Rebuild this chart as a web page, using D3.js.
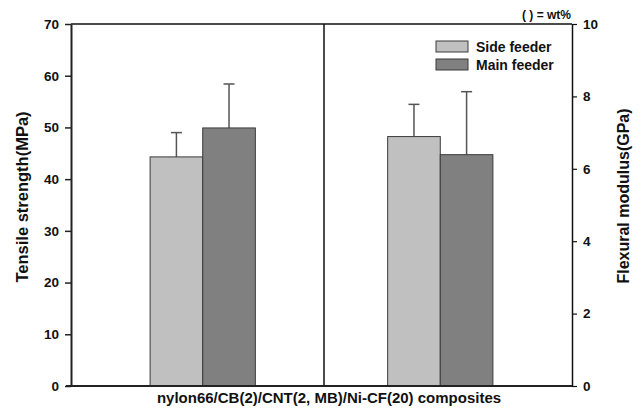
<!DOCTYPE html>
<html>
<head>
<meta charset="utf-8">
<script src="https://cdn.jsdelivr.net/npm/d3@7"></script>
<style>
  body { margin: 0; background: #fff; }
  text { font-family: "Liberation Sans", Arial, sans-serif; font-weight: bold; fill: #111; }
</style>
</head>
<body>
<svg id="chart" width="643" height="414"></svg>
<script>
// groups along the x axis (left half on left axis, right half on right axis)
const groups = ["Tensile strength", "Flexural modulus"];
const feeders = ["Side feeder", "Main feeder"];

// tensile strength (MPa)
const tensileMean = [44.3, 49.9];
const tensileErr = [4.7, 8.5];

// flexural modulus (GPa)
const flexMean = [6.89, 6.39];
const flexErr = [0.89, 1.74];

const leftTicks = [0, 10, 20, 30, 40, 50, 60, 70];
const rightTicks = [0, 2, 4, 6, 8, 10];

const svg = d3.select("#chart");
const width = 643, height = 414;
const margin = { top: 24, right: 71, bottom: 28, left: 71 };
const innerW = width - margin.left - margin.right;
const innerH = height - margin.top - margin.bottom;

const g = svg.append("g").attr("transform", `translate(${margin.left},${margin.top})`);

const x0 = d3.scaleBand()
    .domain(groups)
    .range([0, innerW])
    .paddingInner(0.557)
    .paddingOuter(0.333);

const x1 = d3.scaleBand()
    .domain(feeders)
    .range([0, x0.bandwidth()]);

const yL = d3.scaleLinear().domain([0, 70]).range([innerH, 0]);
const yR = d3.scaleLinear().domain([0, 10]).range([innerH, 0]);

const colors = { "Side feeder": "#c0c0c0", "Main feeder": "#808080" };

// rows for drawing: each bar knows which scale it uses
const rows = [];
feeders.forEach((f, i) => {
    rows.push({ group: groups[0], feeder: f, mean: tensileMean[i], err: tensileErr[i], y: yL });
    rows.push({ group: groups[1], feeder: f, mean: flexMean[i], err: flexErr[i], y: yR });
});

// error bars (behind bars)
rows.forEach(d => {
    const cx = x0(d.group) + x1(d.feeder) + x1.bandwidth() / 2;
    g.append("line")
        .attr("x1", cx).attr("x2", cx)
        .attr("y1", d.y(d.mean)).attr("y2", d.y(d.mean + d.err))
        .attr("stroke", "#555").attr("stroke-width", 1.5);
    g.append("line")
        .attr("x1", cx - 5.5).attr("x2", cx + 5.5)
        .attr("y1", d.y(d.mean + d.err)).attr("y2", d.y(d.mean + d.err))
        .attr("stroke", "#555").attr("stroke-width", 1.5);
});

// bars
g.selectAll("rect.bar")
    .data(rows)
    .join("rect")
    .attr("class", "bar")
    .attr("x", d => x0(d.group) + x1(d.feeder))
    .attr("y", d => d.y(d.mean))
    .attr("width", x1.bandwidth())
    .attr("height", d => innerH - d.y(d.mean))
    .attr("fill", d => colors[d.feeder])
    .attr("stroke", "#3a3a3a")
    .attr("stroke-width", 1);

// divider between the two halves
g.append("line")
    .attr("x1", innerW * 0.505).attr("x2", innerW * 0.505)
    .attr("y1", 0).attr("y2", innerH)
    .attr("stroke", "#111").attr("stroke-width", 1.5);

// top frame
g.append("line")
    .attr("x1", 0).attr("x2", innerW)
    .attr("y1", 0).attr("y2", 0)
    .attr("stroke", "#111").attr("stroke-width", 1.5);

// left axis
const leftAxis = g.append("g")
    .call(d3.axisLeft(yL).tickValues(leftTicks).tickSize(6).tickSizeOuter(0).tickPadding(6));
leftAxis.select(".domain").attr("stroke", "#222").attr("stroke-width", 2);
leftAxis.selectAll(".tick line").attr("stroke", "#222").attr("stroke-width", 1.5);
leftAxis.selectAll(".tick text").style("font-size", "13.5px").attr("fill", "#111");

// right axis
const rightAxis = g.append("g")
    .attr("transform", `translate(${innerW},0)`)
    .call(d3.axisRight(yR).tickValues(rightTicks).tickSize(5).tickSizeOuter(0).tickPadding(6));
rightAxis.select(".domain").attr("stroke", "#111").attr("stroke-width", 1.5);
rightAxis.selectAll(".tick line").attr("stroke", "#111").attr("stroke-width", 1.2);
rightAxis.selectAll(".tick text").style("font-size", "13.5px").attr("fill", "#111");

// bottom axis line
g.append("line")
    .attr("x1", -5).attr("x2", innerW)
    .attr("y1", innerH).attr("y2", innerH)
    .attr("stroke", "#222").attr("stroke-width", 2);

// axis titles
svg.append("text")
    .attr("transform", "translate(28,197) rotate(-90)")
    .attr("text-anchor", "middle")
    .style("font-size", "16.5px")
    .text("Tensile strength(MPa)");

svg.append("text")
    .attr("transform", "translate(629,196) rotate(-90)")
    .attr("text-anchor", "middle")
    .style("font-size", "16px")
    .text("Flexural modulus(GPa)");

svg.append("text")
    .attr("x", 329).attr("y", 403)
    .attr("text-anchor", "middle")
    .style("font-size", "15px")
    .text("nylon66/CB(2)/CNT(2, MB)/Ni-CF(20) composites");

svg.append("text")
    .attr("x", 571).attr("y", 19)
    .attr("text-anchor", "end")
    .style("font-size", "12px")
    .text("( ) = wt%");

// legend
const legend = svg.append("g").attr("transform", "translate(436,41)");
feeders.forEach((f, i) => {
    const row = legend.append("g").attr("transform", `translate(0,${i * 18})`);
    row.append("rect")
        .attr("width", 32).attr("height", 11)
        .attr("fill", colors[f])
        .attr("stroke", "#3a3a3a").attr("stroke-width", 1);
    row.append("text")
        .attr("x", 40).attr("y", 11)
        .style("font-size", "14px")
        .text(f);
});
</script>
</body>
</html>
